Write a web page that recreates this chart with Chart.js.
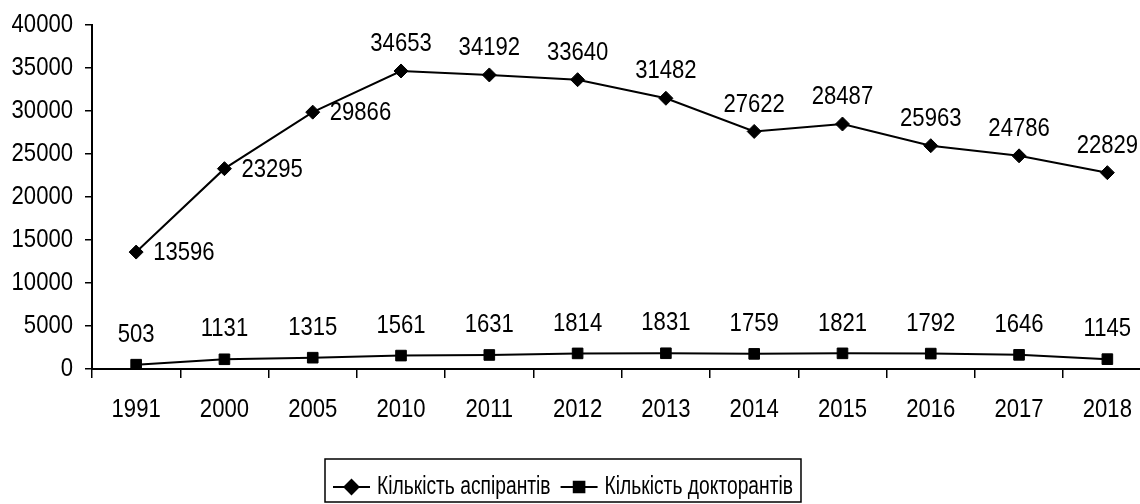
<!DOCTYPE html>
<html>
<head>
<meta charset="utf-8">
<script src="https://cdn.jsdelivr.net/npm/chart.js@4"></script>
<style>
  body { margin: 0; background: #fff; overflow: hidden; }
  #wrap { width: 1160px; height: 504px; }
</style>
</head>
<body>
<div id="wrap"><canvas id="grafik"></canvas></div>
<script>
const years = ["1991", "2000", "2005", "2010", "2011", "2012", "2013", "2014", "2015", "2016", "2017", "2018"];
const aspiranty = [13596, 23295, 29866, 34653, 34192, 33640, 31482, 27622, 28487, 25963, 24786, 22829];
const doktoranty = [503, 1131, 1315, 1561, 1631, 1814, 1831, 1759, 1821, 1792, 1646, 1145];
const seriesNames = ["Кількість аспірантів", "Кількість докторантів"];

// вузького шрифту немає, тому стискаємо звичайний по горизонталі
const FONT = "26px 'Liberation Sans', Arial, sans-serif";
const K = 0.85;
const K_LEG = 0.74;

function tekst(ctx, s, x, y, align, k) {
  ctx.save();
  ctx.translate(x, y);
  ctx.scale(k || K, 1);
  ctx.font = FONT;
  ctx.fillStyle = "#000";
  ctx.textAlign = align;
  ctx.textBaseline = "middle";
  ctx.fillText(String(s), 0, 0);
  ctx.restore();
}

// підписи осей
const osi = {
  id: "osi",
  afterDraw(chart) {
    const ctx = chart.ctx;
    const sx = chart.scales.x, sy = chart.scales.y;
    sy.ticks.forEach((t, i) => {
      tekst(ctx, t.value, sy.right - 19, sy.getPixelForTick(i), "right");
    });
    sx.ticks.forEach((t, i) => {
      tekst(ctx, years[i], sx.getPixelForTick(i), sx.top + 41, "center");
    });
  }
};

// підписи значень біля точок
const pidpysy = {
  id: "pidpysy",
  afterDatasetsDraw(chart) {
    const ctx = chart.ctx;
    chart.data.datasets.forEach((ds, di) => {
      chart.getDatasetMeta(di).data.forEach((pt, i) => {
        const v = ds.data[i];
        if (di === 0 && i < 3) {
          tekst(ctx, v, pt.x + 17, pt.y + 1, "left");
        } else {
          tekst(ctx, v, pt.x, pt.y - (di === 0 ? 27 : 30), "center");
        }
      });
    });
  }
};

// легенда в рамці, як в Excel
const legenda = {
  id: "legenda",
  afterDraw(chart) {
    const ctx = chart.ctx;
    ctx.save();
    ctx.font = FONT;
    const left = 325, top = 459, h = 43, y = 487;
    const w0 = ctx.measureText(seriesNames[0]).width * K_LEG;
    const w1 = ctx.measureText(seriesNames[1]).width * K_LEG;
    const total = 8 + 37 + 7 + w0 + 10 + 37 + 7 + w1 + 8;
    ctx.lineWidth = 1.5;
    ctx.strokeStyle = "#000";
    ctx.strokeRect(left, top, total, h);
    let x = left + 8;
    const styles = ["rectRot", "rect"];
    const radii = [7, 7.5];
    [w0, w1].forEach((w, k) => {
      ctx.lineWidth = 2;
      ctx.beginPath();
      ctx.moveTo(x, y);
      ctx.lineTo(x + 37, y);
      ctx.stroke();
      ctx.fillStyle = "#000";
      Chart.helpers.drawPoint(ctx, { pointStyle: styles[k], radius: radii[k], borderWidth: 1 }, x + 18.5, y);
      ctx.fill();
      tekst(ctx, seriesNames[k], x + 44, y, "left", K_LEG);
      x += 37 + 7 + w + 10;
    });
    ctx.restore();
  }
};

new Chart(document.getElementById("grafik"), {
  type: "line",
  data: {
    labels: years,
    datasets: [
      {
        label: seriesNames[0],
        data: aspiranty,
        borderColor: "#000",
        backgroundColor: "#000",
        borderWidth: 2,
        pointStyle: "rectRot",
        pointRadius: 7,
        pointBorderWidth: 1,
        tension: 0
      },
      {
        label: seriesNames[1],
        data: doktoranty,
        borderColor: "#000",
        backgroundColor: "#000",
        borderWidth: 2,
        pointStyle: "rect",
        pointRadius: 7.5,
        pointBorderWidth: 1,
        tension: 0
      }
    ]
  },
  options: {
    responsive: true,
    maintainAspectRatio: false,
    animation: false,
    layout: { padding: { top: 25, right: 0, bottom: 0, left: 0 } },
    plugins: {
      legend: { display: false },
      tooltip: { enabled: false }
    },
    scales: {
      x: {
        offset: true,
        afterFit: s => { s.height = 135; s.paddingLeft = 0; s.paddingRight = 0; },
        grid: {
          offset: true,
          drawOnChartArea: false,
          drawTicks: true,
          tickLength: 9,
          color: "#000",
          lineWidth: 1.5
        },
        border: { color: "#000", width: 2 },
        ticks: { display: false, autoSkip: false }
      },
      y: {
        min: 0,
        max: 40000,
        afterFit: s => { s.width = 92; s.paddingTop = 0; s.paddingBottom = 0; },
        grid: {
          drawOnChartArea: false,
          drawTicks: true,
          tickLength: 7,
          color: "#000",
          lineWidth: 1.5
        },
        border: { color: "#000", width: 2 },
        ticks: { display: false, stepSize: 5000 }
      }
    }
  },
  plugins: [osi, pidpysy, legenda]
});
</script>
</body>
</html>
